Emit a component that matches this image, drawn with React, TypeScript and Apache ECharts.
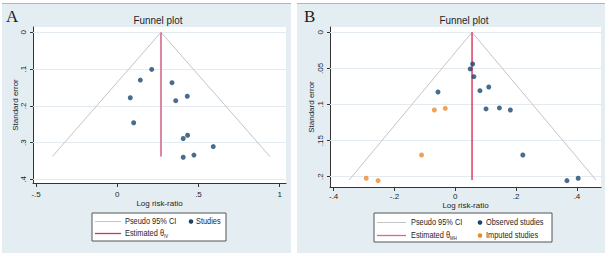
import React, { useEffect, useRef } from "react";
import * as echarts from "echarts";

// ---------- Data ----------
// Panel A
const lrrA = [0.212, 0.142, 0.337, 0.080, 0.431, 0.360, 0.101, 0.433, 0.406, 0.591, 0.472, 0.406];
const seA = [0.101, 0.130, 0.137, 0.178, 0.174, 0.186, 0.246, 0.280, 0.289, 0.311, 0.334, 0.340];
const funnelA = [[-0.400, 0.338], [0.269, 0], [0.940, 0.338]];
const thetaA = [[0.269, 0], [0.269, 0.338]];
const xTicksA = [-0.5, 0, 0.5, 1];
const yTicksA = [0, 0.1, 0.2, 0.3, 0.4];

// Panel B
const lrrObsB = [0.057, 0.049, 0.061, -0.057, 0.081, 0.110, 0.101, 0.145, 0.181, 0.222, 0.367, 0.404];
const seObsB = [0.0439, 0.0508, 0.0615, 0.0827, 0.0809, 0.0758, 0.1062, 0.1048, 0.1076, 0.170, 0.2055, 0.2022];
const lrrImpB = [-0.069, -0.033, -0.111, -0.293, -0.254];
const seImpB = [0.1076, 0.1053, 0.170, 0.2022, 0.2055];
const funnelB = [[-0.349, 0.2046], [0.055, 0], [0.4625, 0.2046]];
const thetaB = [[0.055, 0], [0.055, 0.2046]];
const xTicksB = [-0.4, -0.2, 0, 0.2, 0.4];
const yTicksB = [0, 0.05, 0.1, 0.15, 0.2];

const FONT = "'Liberation Sans', Arial, sans-serif";
const SERIF = "'Liberation Serif', 'Times New Roman', serif";
const NAVY = "#1a476f";
const ORANGE = "#ec8b2a";
const CI_GRAY = "#c4c4c4";
const GRID_C = "#e3ebf0";
const PANEL = "#e4edf2";
const TXT = "#1e1e1e";
const AXIS_FS = 8;
const NAME_FS = 8;

const fmt = (v: number) => {
  if (v === 0) return "0";
  return String(Math.round(v * 1000) / 1000).replace("0.", ".");
};

const pairs = (xs: number[], ys: number[]) => xs.map((x, i) => [x, ys[i]]);

function xAxisCfg(gridIndex: number, min: number, max: number, ticks: number[], gap: number, lblMargin: number) {
  return {
    type: "value",
    gridIndex,
    min,
    max,
    name: "Log risk-ratio",
    nameLocation: "middle",
    nameGap: gap,
    nameMoveOverlap: false,
    nameTextStyle: { fontFamily: FONT, fontSize: NAME_FS, color: TXT },
    axisLine: { show: true, onZero: false, lineStyle: { color: "#333", width: 1 } },
    axisTick: { show: true, length: 4, customValues: ticks, lineStyle: { color: "#333" } },
    axisLabel: {
      show: true,
      customValues: ticks,
      formatter: (v: number) => fmt(v),
      margin: lblMargin,
      fontFamily: FONT,
      fontSize: AXIS_FS,
      color: TXT,
    },
    splitLine: { show: false },
  };
}

function yAxisCfg(gridIndex: number, min: number, max: number, ticks: number[], gap: number) {
  return {
    type: "value",
    gridIndex,
    inverse: true,
    min,
    max,
    name: "Standard error",
    nameLocation: "middle",
    nameRotate: 90,
    nameGap: gap,
    nameMoveOverlap: false,
    nameTextStyle: { fontFamily: FONT, fontSize: NAME_FS, color: TXT },
    axisLine: { show: true, onZero: false, lineStyle: { color: "#333", width: 1 } },
    axisTick: { show: true, length: 3, customValues: ticks, lineStyle: { color: "#333" } },
    axisLabel: {
      show: true,
      customValues: ticks,
      rotate: 90,
      formatter: (v: number) => fmt(v),
      margin: 6,
      fontFamily: FONT,
      fontSize: AXIS_FS,
      color: TXT,
    },
    splitLine: { show: false },
  };
}

function gridLines(ticks: number[]) {
  return {
    silent: true,
    z: 1,
    symbol: "none",
    label: { show: false },
    lineStyle: { color: GRID_C, type: "solid", width: 1 },
    data: ticks.map((t) => ({ yAxis: t })),
  };
}

function text(x: number, y: number, t: string, size: number, align = "left", family = FONT, sx = 1, rich?: any) {
  return {
    type: "text",
    z: 50,
    x,
    y,
    scaleX: sx,
    style: {
      x: 0,
      y: 0,
      text: t,
      fontFamily: family,
      fontSize: size,
      fill: TXT,
      textAlign: align,
      textVerticalAlign: "middle",
      rich,
    },
  };
}

function hline(x1: number, x2: number, y: number, color: string, width: number, z = 50) {
  return {
    type: "line",
    z,
    shape: { x1, y1: y, x2, y2: y },
    style: { stroke: color, lineWidth: width },
  };
}

function dot(cx: number, cy: number, color: string) {
  return { type: "circle", z: 50, shape: { cx, cy, r: 2.3 }, style: { fill: color } };
}

const LEG_FS = 8.5;
const LEG_SX = 0.87;
const subRich = {
  m: { fontFamily: FONT, fontSize: LEG_FS, color: TXT, lineHeight: 11 },
  s: { fontFamily: FONT, fontSize: 5, color: TXT, lineHeight: 6, verticalAlign: "bottom" },
};

export default function App() {
  const ref = useRef<HTMLDivElement>(null);

  useEffect(() => {
    if (!ref.current) return;
    const chart = echarts.init(ref.current, undefined, { renderer: "svg" });

    const option: any = {
      animation: false,
      backgroundColor: "#ffffff",
      textStyle: { fontFamily: FONT },
      grid: [
        { left: 33, top: 27, width: 253, height: 156, show: false },
        { left: 330, top: 27, width: 271, height: 160, show: false },
      ],
      xAxis: [
        xAxisCfg(0, -0.519, 1.039, xTicksA, 16.5, 7),
        xAxisCfg(1, -0.412, 0.479, xTicksB, 14.5, 5),
      ],
      yAxis: [
        yAxisCfg(0, -0.0144, 0.41, yTicksA, 14),
        yAxisCfg(1, -0.0073, 0.2143, yTicksB, 15),
      ],
      series: [
        // Panel A
        {
          name: "Pseudo 95% CI A",
          type: "line",
          xAxisIndex: 0,
          yAxisIndex: 0,
          data: funnelA,
          symbol: "none",
          lineStyle: { color: CI_GRAY, width: 1 },
          z: 2,
          markLine: gridLines(yTicksA),
        },
        {
          name: "Estimated A",
          type: "line",
          xAxisIndex: 0,
          yAxisIndex: 0,
          data: thetaA,
          symbol: "none",
          lineStyle: { color: "#d8879f", width: 2 },
          z: 3,
        },
        {
          name: "Studies",
          type: "scatter",
          xAxisIndex: 0,
          yAxisIndex: 0,
          data: pairs(lrrA, seA),
          symbolSize: 5,
          itemStyle: { color: NAVY },
          z: 6,
        },
        // Panel B
        {
          name: "Pseudo 95% CI B",
          type: "line",
          xAxisIndex: 1,
          yAxisIndex: 1,
          data: funnelB,
          symbol: "none",
          lineStyle: { color: CI_GRAY, width: 1 },
          z: 2,
          markLine: gridLines(yTicksB),
        },
        {
          name: "Estimated B",
          type: "line",
          xAxisIndex: 1,
          yAxisIndex: 1,
          data: thetaB,
          symbol: "none",
          lineStyle: { color: "#d6204e", width: 1.3 },
          z: 3,
        },
        {
          name: "Observed studies",
          type: "scatter",
          xAxisIndex: 1,
          yAxisIndex: 1,
          data: pairs(lrrObsB, seObsB),
          symbolSize: 5,
          itemStyle: { color: NAVY },
          z: 6,
        },
        {
          name: "Imputed studies",
          type: "scatter",
          xAxisIndex: 1,
          yAxisIndex: 1,
          data: pairs(lrrImpB, seImpB),
          symbolSize: 5,
          itemStyle: { color: ORANGE },
          z: 6,
        },
      ],
      graphic: [
        // panel backgrounds
        { type: "rect", z: -100, shape: { x: 2, y: 4, width: 289, height: 249 }, style: { fill: PANEL } },
        { type: "rect", z: -100, shape: { x: 297, y: 4, width: 308, height: 249 }, style: { fill: PANEL } },
        hline(2, 291, 3.5, "#a9b7c3", 1, -99),
        hline(297, 605, 3.5, "#a9b7c3", 1, -99),
        // plot regions
        { type: "rect", z: -90, shape: { x: 33, y: 27, width: 253, height: 156 }, style: { fill: "#ffffff" } },
        { type: "rect", z: -90, shape: { x: 330, y: 27, width: 271, height: 160 }, style: { fill: "#ffffff" } },
        // panel letters
        text(6, 16.5, "A", 17, "left", SERIF),
        text(304, 16.5, "B", 17, "left", SERIF),
        // titles
        text(158, 20, "Funnel plot", 11, "center", FONT, 0.9),
        text(464, 20, "Funnel plot", 11, "center", FONT, 0.9),
        // legend A
        { type: "rect", z: 45, shape: { x: 92, y: 213, width: 134, height: 28 }, style: { fill: "#ffffff", stroke: "#555", lineWidth: 1 } },
        hline(95, 121, 221.5, CI_GRAY, 1),
        text(125, 221.5, "Pseudo 95% CI", LEG_FS, "left", FONT, LEG_SX),
        dot(191, 221.5, NAVY),
        text(196, 221.5, "Studies", LEG_FS, "left", FONT, LEG_SX),
        hline(95, 121, 233.5, "#c93a63", 1.3),
        text(125, 233.5, "{m|Estimated θ}{s|IV}", LEG_FS, "left", FONT, LEG_SX, subRich),
        // legend B
        { type: "rect", z: 45, shape: { x: 374, y: 213, width: 178, height: 29 }, style: { fill: "#ffffff", stroke: "#555", lineWidth: 1 } },
        hline(377, 406, 222.5, CI_GRAY, 1),
        text(411, 222.5, "Pseudo 95% CI", LEG_FS, "left", FONT, LEG_SX),
        dot(480, 222.5, NAVY),
        text(486, 222.5, "Observed studies", LEG_FS, "left", FONT, LEG_SX),
        hline(377, 406, 235.5, "#e0668a", 1.3),
        text(411, 235.5, "{m|Estimated θ}{s|MH}", LEG_FS, "left", FONT, LEG_SX, subRich),
        dot(480, 235.5, ORANGE),
        text(486, 235.5, "Imputed studies", LEG_FS, "left", FONT, LEG_SX),
      ],
    };

    chart.setOption(option);
    return () => chart.dispose();
  }, []);

  return (
    <div
      ref={ref}
      style={{ position: "absolute", left: 0, top: 0, width: 612, height: 256 }}
    />
  );
}
